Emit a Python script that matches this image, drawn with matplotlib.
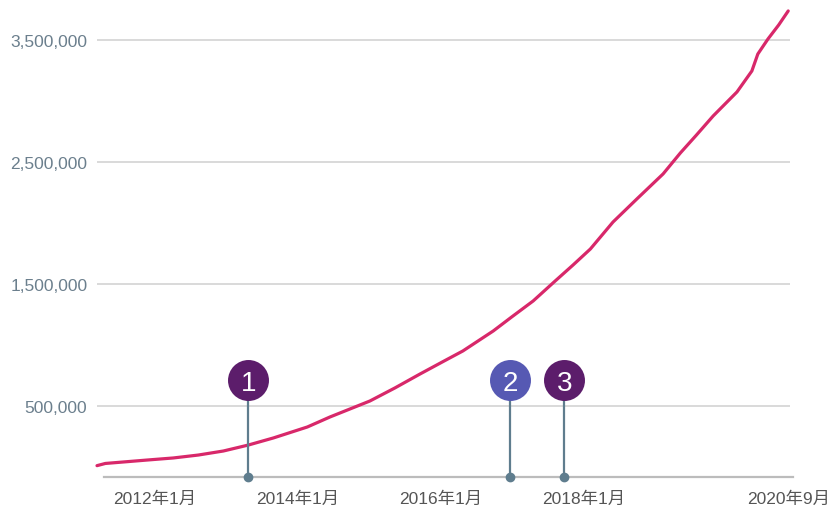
import numpy as np
import matplotlib
matplotlib.use('Agg')
import matplotlib.pyplot as plt
from matplotlib.lines import Line2D
from matplotlib.ticker import FuncFormatter

plt.rcParams['font.family'] = ['Liberation Sans', 'Noto Sans CJK JP']

# months counted from 2012-01
months = [-9.6, -8.2, -5.2, -1.2, 3.2, 7.4, 11.6, 15.8, 20.0, 25.7, 29.5,
          36.2, 40.4, 44.6, 48.7, 51.8, 56.9, 60.0, 63.6, 67.3, 70.3, 73.2,
          77.0, 81.0, 85.4, 88.3, 91.0, 93.8, 97.8, 100.3, 101.3, 103.0,
          104.8, 106.4]
values = [11000, 29000, 41000, 57000, 74000, 98000, 131000, 180000, 238000,
          328000, 410000, 541000, 648000, 762000, 870000, 951000, 1115000,
          1230000, 1361000, 1525000, 1656000, 1787000, 2008000, 2197000,
          2402000, 2574000, 2721000, 2877000, 3074000, 3246000, 3385000,
          3508000, 3623000, 3738000]

tick_months = [0, 24, 48, 72, 106.4]
tick_labels = ['2012年1月', '2014年1月', '2016年1月', '2018年1月', '2020年9月']
y_ticks = [500000, 1500000, 2500000, 3500000]

event_months = [15.8, 59.7, 68.8]
event_labels = ['1', '2', '3']
event_colors = ['#5c1d6b', '#5659b3', '#5c1d6b']

fig = plt.figure(figsize=(8.36, 5.10), dpi=100)
ax = fig.add_axes([97/836, 1-478/510, (790-97)/836, (478-10)/510])

ax.set_xlim(-9.6, 106.7)
ax.set_ylim(-82000, 3754000)

for yt in y_ticks:
    ax.axhline(yt, color='#cfcfcf', lw=1.1, zorder=1)

ax.plot(months, values, color='#d8286a', lw=2.3, zorder=3, clip_on=False,
        solid_capstyle='round', solid_joinstyle='round')

# baseline
ax.add_line(Line2D([(104-97)/693, (793-97)/693], [0, 0], transform=ax.transAxes,
                   color='#bcbcbc', lw=1.6, clip_on=False, zorder=2))

circle_y = 713000
for m, lab, c in zip(event_months, event_labels, event_colors):
    ax.plot([m, m], [-82000, circle_y], color='#5f7d8e', lw=1.6, zorder=4,
            clip_on=False)
    ax.plot(m, -82000, 'o', color='#5f7d8e', ms=6, zorder=5, clip_on=False)
    ax.plot(m, circle_y, 'o', color=c, ms=29.5, mec='none', zorder=6)
    ax.text(m, circle_y, lab, color='white', fontsize=20, ha='center',
            va='center_baseline', zorder=7)

for s in ax.spines.values():
    s.set_visible(False)

ax.set_yticks(y_ticks)
ax.yaxis.set_major_formatter(FuncFormatter(lambda v, p: f'{int(v):,}'))
ax.tick_params(axis='y', length=0, pad=7, labelsize=12.5, labelcolor='#6b7f8d')
ax.set_xticks(tick_months)
ax.set_xticklabels(tick_labels)
ax.tick_params(axis='x', length=0, pad=10, labelsize=12.5, labelcolor='#555555')

fig.savefig('out.png', dpi=100)
